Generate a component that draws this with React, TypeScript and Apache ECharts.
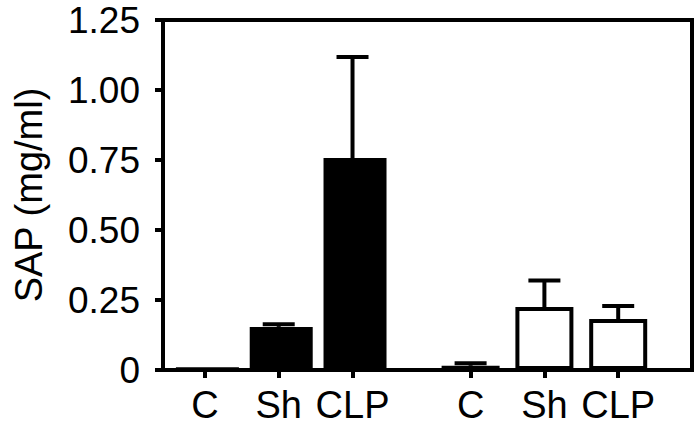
import React, { useEffect, useRef } from "react";
import * as echarts from "echarts";

const categories = ["C", "Sh", "CLP", "C", "Sh", "CLP"];
const positions = [0, 1, 2, 3.6, 4.6, 5.6];
const blackValues = [0.01, 0.154, 0.757];
const blackUpper = [null, 0.163, 1.118];
const whiteValues = [0.015, 0.225, 0.182];
const whiteUpper = [0.024, 0.32, 0.229];
const yTicks = [0, 0.25, 0.5, 0.75, 1.0, 1.25];

const FONT = "'Liberation Sans', Arial, sans-serif";

export default function App() {
  const ref = useRef<HTMLDivElement>(null);
  useEffect(() => {
    if (!ref.current) return;
    const chart = echarts.init(ref.current, null, { renderer: "svg" });
    const blackData = blackValues.map((v, i) => [positions[i], v]);
    const whiteData = whiteValues.map((v, i) => [positions[i + 3], v]);
    const errData: any[] = [];
    blackValues.forEach((v, i) => {
      if (blackUpper[i] != null) errData.push([positions[i], v, blackUpper[i]]);
    });
    whiteValues.forEach((v, i) => {
      if (whiteUpper[i] != null) errData.push([positions[i + 3], v, whiteUpper[i]]);
    });
    chart.setOption({
      animation: false,
      grid: {
        left: 163,
        right: 8,
        top: 20,
        bottom: 59,
        show: true,
        borderColor: "#000",
        borderWidth: 4,
        backgroundColor: "transparent",
      },
      xAxis: {
        type: "value",
        min: -0.568,
        max: 6.6,
        splitLine: { show: false },
        axisLine: { show: true, onZero: false, lineStyle: { color: "#000", width: 4 } },
        axisTick: {
          show: true,
          customValues: positions,
          length: 8,
          lineStyle: { color: "#000", width: 4 },
        },
        axisLabel: {
          customValues: positions,
          margin: 16,
          fontSize: 38,
          fontFamily: FONT,
          color: "#000",
          formatter: (v: number) => {
            const idx = positions.findIndex((p) => Math.abs(p - v) < 0.01);
            return idx >= 0 ? categories[idx] : "";
          },
        },
      },
      yAxis: {
        type: "value",
        min: 0,
        max: 1.25,
        interval: 0.25,
        splitLine: { show: false },
        name: "SAP (mg/ml)",
        nameLocation: "middle",
        nameGap: 115,
        nameTextStyle: { fontSize: 38, fontFamily: FONT, color: "#000" },
        axisLine: { show: true, onZero: false, lineStyle: { color: "#000", width: 4 } },
        axisTick: { show: true, length: 8, lineStyle: { color: "#000", width: 4 } },
        axisLabel: {
          margin: 23,
          fontSize: 37,
          fontFamily: FONT,
          color: "#000",
          formatter: (v: number) => {
            const t = yTicks.find((x) => Math.abs(x - v) < 1e-6);
            if (t === undefined) return "";
            return t === 0 ? "0" : t.toFixed(2);
          },
        },
      },
      series: [
        {
          type: "custom",
          z: 1,
          data: errData,
          encode: { x: 0, y: [1, 2] },
          renderItem: (params: any, api: any) => {
            const x = api.value(0);
            const lo = api.coord([x, api.value(1)]);
            const hi = api.coord([x, api.value(2)]);
            return {
              type: "group",
              children: [
                {
                  type: "line",
                  shape: { x1: lo[0], y1: lo[1], x2: hi[0], y2: hi[1] },
                  style: { stroke: "#000", lineWidth: 4 },
                },
                {
                  type: "line",
                  shape: { x1: hi[0] - 16, y1: hi[1], x2: hi[0] + 16, y2: hi[1] },
                  style: { stroke: "#000", lineWidth: 4 },
                },
              ],
            };
          },
        },
        {
          type: "bar",
          z: 2,
          data: blackData,
          barWidth: 63,
          itemStyle: { color: "#000" },
        },
        {
          type: "bar",
          z: 2,
          data: whiteData,
          barWidth: 58,
          barGap: "-100%",
          itemStyle: { color: "#fff", borderColor: "#000", borderWidth: 4 },
        },
      ],
    });
    return () => chart.dispose();
  }, []);
  return (
    <div
      ref={ref}
      style={{ position: "fixed", left: 0, top: 0, width: 700, height: 429, background: "#fff" }}
    />
  );
}
